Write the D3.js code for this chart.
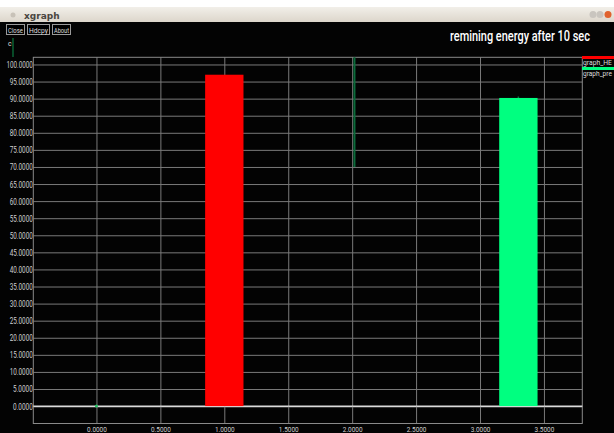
<!DOCTYPE html>
<html><head><meta charset="utf-8">
<script src="https://cdn.jsdelivr.net/npm/d3@7"></script>
<style>
html,body{margin:0;padding:0;background:#000;overflow:hidden}
svg{display:block}
</style></head><body>
<svg id="c" width="614" height="433"></svg>
<script>
// ---- data ----
const title = "remining energy after 10 sec";
const seriesNames = ["graph_HE", "graph_pre"];
const seriesColors = ["#ff0000", "#00ff80"];
const barX = [1.0, 3.3];          // bar centres
const barValues = [97.0, 90.2];   // bar heights
const barWidth = 0.3;
const lineX = [2.018, 2.018];     // thin green trace
const lineY = [70, 104];
const dotPoint = [0, 0];
const xTicks = [0, 0.5, 1.0, 1.5, 2.0, 2.5, 3.0, 3.5];
const yTicks = d3.range(0, 101, 5);
const buttons = ["Close", "Hdcpy", "About"];

const svg = d3.select("#c");
const W = 614, H = 433;
svg.append("rect").attr("width", W).attr("height", H).attr("fill", "#030303");

// squeeze a text element horizontally to a target width, anchored at (ax, ay)
function squeeze(sel, target, ax, ay, anchor){
  sel.each(function(){
    const t = d3.select(this);
    t.attr("x",0).attr("y",0).attr("dy",null).attr("text-anchor",anchor||"start");
    const w = this.getComputedTextLength();
    const s = Math.min(1, target / w);
    t.attr("transform",`translate(${ax},${ay}) scale(${s},1)`);
  });
}

// window chrome
svg.append("rect").attr("x",0).attr("y",0).attr("width",W).attr("height",7).attr("fill","#ffffff");
const tg = svg.append("defs").append("linearGradient").attr("id","tb").attr("x1",0).attr("y1",0).attr("x2",0).attr("y2",1);
tg.append("stop").attr("offset",0).attr("stop-color","#f2efe9");
tg.append("stop").attr("offset",1).attr("stop-color","#dcd6cb");
svg.append("rect").attr("x",0).attr("y",7).attr("width",W).attr("height",15).attr("fill","url(#tb)");
svg.append("circle").attr("cx",13).attr("cy",15).attr("r",2.5).attr("fill","#c8c2b8");
svg.append("text").attr("x",24).attr("y",18.5).text("xgraph")
  .attr("font-family","DejaVu Sans").attr("font-weight","bold").attr("font-size",9).attr("fill","#4a463f");
[[593,"#c9c5bf"],[600,"#c9c5bf"],[608,"#e0622e"]].forEach(([cx,c])=>{
  svg.append("circle").attr("cx",cx).attr("cy",14.5).attr("r",3.5).attr("fill",c);
});

const narrow = "Roboto, 'Liberation Sans', sans-serif";

// buttons
let bx = 6;
const bw = [18, 22, 18];
buttons.forEach((b,i)=>{
  svg.append("rect").attr("x",bx+0.5).attr("y",24.5).attr("width",bw[i]).attr("height",10)
    .attr("fill","#000").attr("stroke","#9a9a9a").attr("stroke-width",1);
  const t = svg.append("text").text(b).attr("font-family",narrow).attr("font-size",8).attr("fill","#ddd");
  squeeze(t, bw[i]-3, bx+2, 32.5);
  bx += bw[i] + 3;
});
svg.append("text").attr("x",8).attr("y",46).text("c")
  .attr("font-family",narrow).attr("font-size",7).attr("fill","#ddd");
svg.append("line").attr("x1",13).attr("x2",13).attr("y1",38).attr("y2",57).attr("stroke","#0b7a40").attr("stroke-width",1.2);

// title
const tt = svg.append("text").text(title)
  .attr("font-family",narrow).attr("font-weight",500).attr("font-size",15).attr("fill","#fff");
squeeze(tt, 140, 450, 41);

// scales
const x = d3.scaleLinear().domain([-0.494, 3.80]).range([33.3, 582.3]);
const y = d3.scaleLinear().domain([-5.1, 102.1]).range([423.5, 57.3]);

const plot = svg.append("g");

// grid via axes
const gy = plot.append("g").attr("transform",`translate(${x.range()[0]},0)`)
  .call(d3.axisLeft(y).tickValues(yTicks).tickSize(-(x.range()[1]-x.range()[0])).tickPadding(1).tickFormat(d3.format(".4f")));
gy.select(".domain").remove();
gy.selectAll(".tick line").attr("stroke", d => d===0 ? "#d8d8d8" : "#7a7a7a").attr("stroke-width", d => d===0 ? 1.4 : 1);
gy.selectAll(".tick text").attr("fill","#d0d0d0").attr("font-family",narrow).attr("font-size",8.5)
  .each(function(){ const n=this.textContent.length; squeeze(d3.select(this), n*3.3, -0.5, 3, "end"); });

const gx = plot.append("g").attr("transform",`translate(0,${y.range()[0]})`)
  .call(d3.axisBottom(x).tickValues(xTicks).tickSize(-(y.range()[0]-y.range()[1])).tickPadding(3).tickFormat(d3.format(".4f")));
gx.select(".domain").remove();
gx.selectAll(".tick line").attr("stroke","#7a7a7a").attr("stroke-width",1);
gx.selectAll(".tick text").attr("fill","#d0d0d0").attr("font-family",narrow).attr("font-size",8)
  .each(function(){ const n=this.textContent.length; squeeze(d3.select(this), n*3.3, 0, 8, "middle"); });

// frame
plot.append("rect").attr("x",x.range()[0]).attr("y",y.range()[1]).attr("width",x.range()[1]-x.range()[0])
  .attr("height",y.range()[0]-y.range()[1]).attr("fill","none").attr("stroke","#8a8a8a").attr("stroke-width",1);

// zero line redraw on top of vertical grid
plot.append("line").attr("x1",x.range()[0]).attr("x2",x.range()[1]).attr("y1",y(0)).attr("y2",y(0))
  .attr("stroke","#dcdcdc").attr("stroke-width",1.4);

// clip
svg.append("clipPath").attr("id","pc").append("rect").attr("x",x.range()[0]).attr("y",y.range()[1])
  .attr("width",x.range()[1]-x.range()[0]).attr("height",y.range()[0]-y.range()[1]);
const marks = svg.append("g").attr("clip-path","url(#pc)");

// bars
marks.selectAll("rect.bar").data(barX).join("rect").attr("class","bar")
  .attr("x",(d)=>x(d-barWidth/2)).attr("width",(d)=>x(d+barWidth/2)-x(d-barWidth/2))
  .attr("y",(d,i)=>y(barValues[i])).attr("height",(d,i)=>y(0)-y(barValues[i]))
  .attr("fill",(d,i)=>seriesColors[i]);
// small tick on top of green bar
marks.append("line").attr("x1",x(barX[1])).attr("x2",x(barX[1])).attr("y1",y(barValues[1])).attr("y2",y(barValues[1])-1.5)
  .attr("stroke","#0b7a40").attr("stroke-width",1.5);

// thin green trace
marks.append("path").datum(lineX.map((d,i)=>[d,lineY[i]]))
  .attr("d", d3.line().x(d=>x(d[0])).y(d=>y(d[1])))
  .attr("stroke","#0b6b3a").attr("stroke-width",2).attr("fill","none");
marks.append("circle").attr("cx",x(dotPoint[0])).attr("cy",y(dotPoint[1])).attr("r",1.5).attr("fill","#1fbf5f");

// legend
const lg = svg.append("g");
seriesNames.forEach((n,i)=>{
  const ly = 57.5 + i*11;
  lg.append("line").attr("x1",582).attr("x2",614).attr("y1",ly).attr("y2",ly).attr("stroke",seriesColors[i]).attr("stroke-width",3);
  const t = lg.append("text").text(n).attr("fill","#ddd").attr("font-family",narrow).attr("font-size",8);
  squeeze(t, 29, 583, ly+7);
});
</script>
</body></html>
